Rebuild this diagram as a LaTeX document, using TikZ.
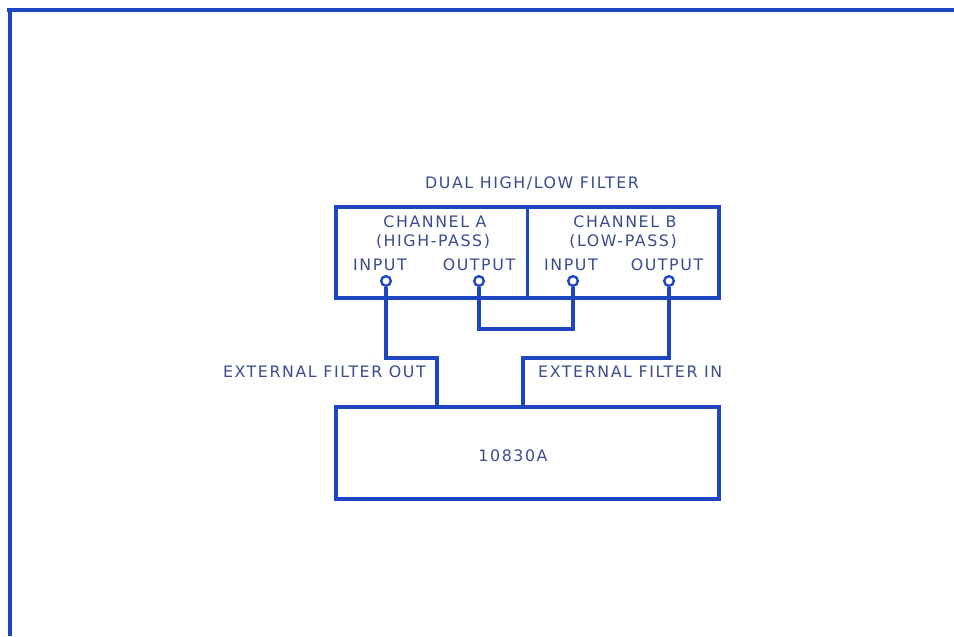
\documentclass[tikz,border=0pt]{standalone}
\usepackage{fontspec}
\setmainfont{TeX Gyre Heros}
\newfontfamily\labelfont[LetterSpace=10]{DejaVu Sans}
\usepackage{xcolor}
\usetikzlibrary{positioning}
\definecolor{wireblue}{RGB}{30,70,195}
\definecolor{textblue}{RGB}{58,76,142}

\begin{document}
\begin{tikzpicture}[x=0.03cm,y=-0.03cm,
  wire/.style={wireblue,line width=2.7pt,line join=miter},
  jack/.style={circle,draw=wireblue,line width=2pt,fill=white,inner sep=0pt,minimum size=0.29cm},
  box/.style={draw=wireblue,line width=2.7pt,minimum width=11.49cm},
  lbl/.style={textblue,inner sep=0pt,font=\labelfont\fontsize{13.5}{16}\selectfont}]
\useasboundingbox (0,0) rectangle (954,636);
\fill[white] (0,0) rectangle (954,636);
% frame
\draw[wire,line width=2.6pt] (7,10) -- (954,10);
\draw[wire,line width=2.6pt] (10,10) -- (10,636);
% filter unit
\node[lbl] (title) at (532,183) {DUAL HIGH/LOW FILTER};
\node[box,minimum height=2.73cm] (filter) at (527.5,252.5) {};
\draw[wire] (filter.north) -- (filter.south);
\node[lbl] (chana) at (435,222) {CHANNEL A};
\node[lbl] (hipass) at (433,242) {(HIGH-PASS)};
\node[lbl] (chanb) at (625,222) {CHANNEL B};
\node[lbl] (lopass) at (623,242) {(LOW-PASS)};
\node[lbl] (ainlbl) at (380,265) {INPUT};
\node[lbl] (aoutlbl) at (479,265) {OUTPUT};
\node[lbl] (binlbl) at (571,265) {INPUT};
\node[lbl] (boutlbl) at (667,265) {OUTPUT};
% jacks
\node[jack] (ain) at (386,281) {};
\node[jack] (aout) at (479,281) {};
\node[jack] (bin) at (573,281) {};
\node[jack] (bout) at (669,281) {};
% 10830A
\node[box,minimum height=2.76cm] (main) at (527.5,453) {};
\node[lbl] (mainlbl) at (513,456) {10830A};
\coordinate (outtap) at (437,407);
\coordinate (intap) at (523,407);
% wiring
\draw[wire] (aout.south) -- ++(0,42) -| (bin.south);
\draw[wire] (ain.south) -- ++(0,71) -| (outtap);
\draw[wire] (bout.south) -- ++(0,71) -| (intap);
\node[lbl,anchor=east] (extout) at (426,372) {EXTERNAL FILTER OUT};
\node[lbl,anchor=west] (extin) at (538,372) {EXTERNAL FILTER IN};
\end{tikzpicture}
\end{document}
